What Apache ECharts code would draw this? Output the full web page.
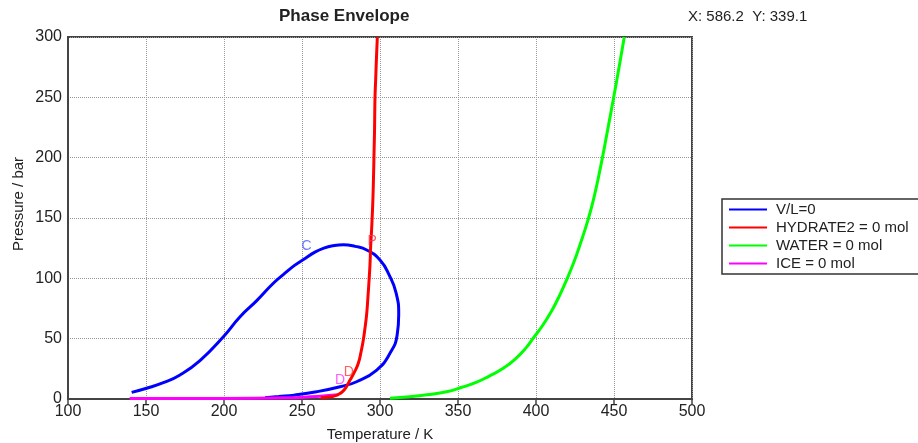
<!DOCTYPE html>
<html>
<head>
<meta charset="utf-8">
<script src="https://cdn.jsdelivr.net/npm/echarts@6/dist/echarts.min.js"></script>
<style>
  html, body { margin: 0; padding: 0; background: #fff; }
  #chart { width: 918px; height: 443px; }
</style>
</head>
<body>
<div id="chart"></div>
<script>
// 读图估计的曲线数据 [温度 K, 压力 bar]
const vlCurve = [
  [140.8, 5.5], [150.4, 8.9], [161.1, 13.5], [171.8, 19.9], [184.6, 31.8],
  [199.6, 51.6], [210.3, 68.2], [221, 81.5], [231.6, 95.9], [238, 103],
  [245, 110.5], [252, 116.5], [258, 121.5], [264, 125], [270, 127], [276.5, 127.8],
  [284, 126.5], [291.5, 123.5], [300, 115.2], [306, 102.5], [310.3, 88], [312, 70],
  [311, 53], [306.4, 37.9], [297.9, 24.0], [285, 14.3], [274.4, 10.2], [259.4, 6.0],
  [245, 3.2], [235, 2.0], [226.3, 1.0]
]
const hydrateCurve = [
  [262, 0.8], [268, 1.8], [273, 3.5], [277, 7.5], [280.8, 15.7], [283.5, 22],
  [286.1, 29.6], [288, 40], [289.3, 48.9], [290.5, 60], [291.5, 71], [292.3, 85],
  [293, 98.6], [293.6, 112], [294, 126.2], [294.6, 140], [295.3, 160],
  [295.8, 181.5], [296.2, 205], [296.5, 223], [296.8, 250], [297.2, 264],
  [297.8, 285], [298.3, 300]
]
const waterCurve = [
  [306.4, 0.6], [319, 1.9], [330, 3.5], [342.7, 6], [352, 9.5], [362, 14],
  [370, 19], [379, 25.4], [387, 33.5], [394, 43], [398, 50], [404, 60.5],
  [410, 73], [415, 85.5], [419.7, 99], [424, 112.5], [428, 127], [433, 147],
  [437, 166], [441.5, 193], [445.5, 220], [449.5, 248], [453, 273], [456.6, 300]
]
const iceCurve = [
  [139.5, 0.5], [180, 0.5], [220, 0.6], [240, 1.0], [255, 1.8], [265, 2.6], [273.3, 3.5]
]

// 标注字母
const markerNames = ['C', 'P', 'D', 'D']
const markerT = [253, 294.9, 274.4, 280]
const markerP = [126.8, 131, 15.7, 22.4]
const markerColors = ['#4a5aff', '#ff3050', '#ff33ff', '#ff3a3a']

const seriesNames = ['V/L=0', 'HYDRATE2 = 0 mol', 'WATER = 0 mol', 'ICE = 0 mol']
const seriesColors = ['#0000ff', '#ff0000', '#00ff00', '#ff00ff']
const seriesData = [vlCurve, hydrateCurve, waterCurve, iceCurve]

const FONT = 'Liberation Sans'

const chart = echarts.init(document.getElementById('chart'))

const lineSeries = seriesNames.map((name, i) => ({
  name: name,
  type: 'line',
  data: seriesData[i],
  smooth: 0.5,
  symbol: 'none',
  lineStyle: { color: seriesColors[i], width: 3 },
  itemStyle: { color: seriesColors[i] },
  z: [2, 4, 2, 3][i]
}))

const markerSeries = {
  name: 'markers',
  type: 'scatter',
  symbolSize: 0,
  z: 5,
  data: markerNames.map((n, i) => ({
    name: n,
    value: [markerT[i], markerP[i]],
    label: { color: markerColors[i] }
  })),
  label: {
    show: true,
    position: 'inside',
    formatter: p => p.name,
    fontFamily: FONT,
    fontSize: 14
  }
}

const option = {
  animation: false,
  title: [
    {
      text: 'Phase Envelope',
      left: 279,
      top: 8,
      padding: 0,
      textStyle: { fontFamily: FONT, fontSize: 17, fontWeight: 'bold', color: '#222' }
    },
    {
      text: 'X: 586.2  Y: 339.1',
      left: 688,
      top: 9,
      padding: 0,
      textStyle: { fontFamily: FONT, fontSize: 15, fontWeight: 'normal', color: '#222' }
    }
  ],
  legend: {
    data: seriesNames,
    orient: 'vertical',
    left: 722,
    top: 199,
    padding: [3, 40, 3, 6],
    itemWidth: 38,
    itemHeight: 14,
    itemGap: 3,
    itemStyle: { opacity: 0 },
    borderColor: '#333',
    borderWidth: 1.5,
    textStyle: { fontFamily: FONT, fontSize: 15, color: '#222', padding: [0, 0, 0, 4] }
  },
  grid: {
    left: 68,
    right: 226,
    top: 37,
    bottom: 44,
    outerBoundsMode: 'none',
    show: true,
    borderColor: '#444',
    borderWidth: 2
  },
  graphic: [
    {
      type: 'text',
      x: 19,
      y: 204,
      rotation: Math.PI / 2,
      style: {
        text: 'Pressure / bar',
        align: 'center',
        verticalAlign: 'middle',
        fontFamily: FONT,
        fontSize: 15,
        fill: '#222'
      }
    }
  ],
  xAxis: {
    type: 'value',
    min: 100,
    max: 500,
    interval: 50,
    name: 'Temperature / K',
    nameLocation: 'middle',
    nameGap: 28,
    nameTextStyle: { fontFamily: FONT, fontSize: 15, color: '#222' },
    axisLine: { show: true, lineStyle: { color: '#444', width: 2 } },
    axisTick: { show: true, inside: false, length: 5, lineStyle: { color: '#444', width: 1.5 } },
    axisLabel: { fontFamily: FONT, fontSize: 16, color: '#222', margin: 5 },
    splitLine: { show: true, lineStyle: { color: '#999', type: 'dotted', width: 1 } }
  },
  yAxis: {
    type: 'value',
    min: 0,
    max: 300,
    interval: 50,
    axisLine: { show: true, lineStyle: { color: '#444', width: 2 } },
    axisTick: { show: false },
    axisLabel: { fontFamily: FONT, fontSize: 16, color: '#222', margin: 6 },
    splitLine: { show: true, lineStyle: { color: '#999', type: 'dotted', width: 1 } }
  },
  series: lineSeries.concat([markerSeries])
}

chart.setOption(option)
</script>
</body>
</html>
